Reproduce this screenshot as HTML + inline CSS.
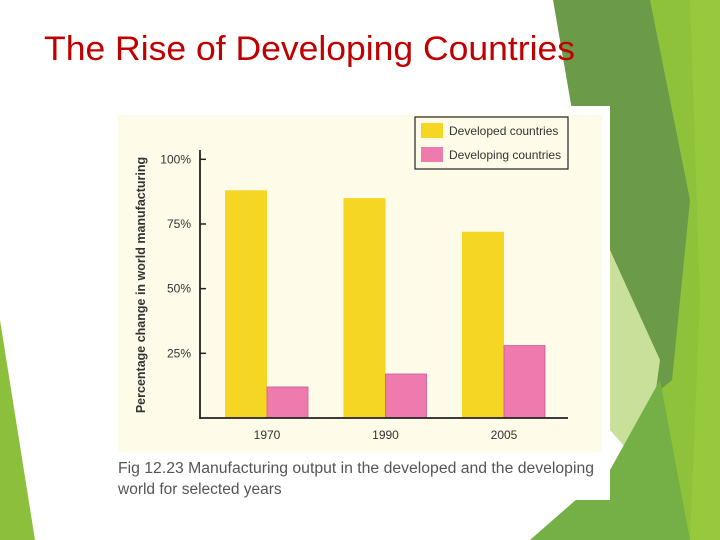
<!DOCTYPE html>
<html><head><meta charset="utf-8"><style>
body{margin:0;width:720px;height:540px;overflow:hidden;background:#fff;font-family:"Liberation Sans",sans-serif;position:relative}
</style></head><body>
<svg width="720" height="540" style="position:absolute;left:0;top:0">
<g>
<polygon points="0,320 35,540 0,540" fill="#8cc03c"/>
<polygon points="640,0 720,0 720,540 600,540 640,470" fill="#8dc23a"/>
<polygon points="553,0 650,0 690,200 672,380 612,430 610,330" fill="#6b9a48"/>
<polygon points="690,0 720,0 720,540 690,540 700,300" fill="#97c93f"/>
<polygon points="610,250 660,360 645,470 610,430" fill="#c8e09a"/>
<polygon points="530,540 610,470 660,380 690,540" fill="#74b045"/>
</g>
<text x="44" y="60" font-size="34" fill="#c00000" textLength="531" lengthAdjust="spacingAndGlyphs">The Rise of Developing Countries</text>
<rect x="110" y="106" width="500" height="394" fill="#fff"/>
<rect x="118" y="115" width="484" height="337" fill="#fefbe8"/>
<g id="chart"></g>
<g>
<rect x="415" y="117" width="153" height="52" fill="#fefbe8" stroke="#222" stroke-width="1.2"/>
<rect x="421" y="123" width="22" height="15" fill="#f4d623"/>
<text x="449" y="135" font-size="12" fill="#333">Developed countries</text>
<rect x="421" y="147" width="22" height="15" fill="#ee7aae"/>
<text x="449" y="159" font-size="12" fill="#333">Developing countries</text>
</g>
<text transform="translate(145,285) rotate(-90)" text-anchor="middle" font-size="12.5" font-weight="bold" fill="#333">Percentage change in world manufacturing</text>
<text x="118" y="473" font-size="15.5" fill="#555" textLength="476" lengthAdjust="spacingAndGlyphs">Fig 12.23 Manufacturing output in the developed and the developing</text>
<text x="118" y="494" font-size="15.5" fill="#555">world for selected years</text>
</svg>
<script>
const categories=["1970","1990","2005"];
const developed=[88,85,72];
const developing=[12,17,28];
const yTicks=[25,50,75,100];
const yTickLabels=["25%","50%","75%","100%"];
const ns="http://www.w3.org/2000/svg";
const g=document.getElementById('chart');
const x0=200,y0=418,pxPer=2.587,groupStart=225,groupStep=118.5,barW=42;
function y(v){return y0-v*pxPer;}
function gx(i){return groupStart+i*groupStep;}
function mk(t,a){const e=document.createElementNS(ns,t);for(const k in a)e.setAttribute(k,a[k]);g.appendChild(e);return e;}
categories.forEach((c,i)=>{
 let b=mk('rect',{x:gx(i),y:y(developed[i]),width:barW,height:developed[i]*pxPer,fill:'#f4d623'});
 
 
 let d=mk('rect',{x:gx(i)+barW,y:y(developing[i]),width:barW-1,height:developing[i]*pxPer,fill:'#ee7aae',stroke:'#c85a90','stroke-width':0.8});
 
 
 let t=mk('text',{x:gx(i)+barW,y:439,'text-anchor':'middle','font-size':12,fill:'#333'});
 t.textContent=c;
 
 
});
yTicks.forEach((v,i)=>{
 let l=mk('line',{x1:x0,x2:x0+6,y1:y(v),y2:y(v),stroke:'#222','stroke-width':1.5});
 
 
 let t=mk('text',{x:x0-9,y:y(v)+4,'text-anchor':'end','font-size':12,fill:'#333'});
 t.textContent=yTickLabels[i];
 
 
});
let ya=mk('line',{x1:x0,x2:x0,y1:150,y2:y0+1,stroke:'#222','stroke-width':1.8});


let xa=mk('line',{x1:x0,x2:568,y1:y0,y2:y0,stroke:'#222','stroke-width':1.8});


</script>
</body></html>
